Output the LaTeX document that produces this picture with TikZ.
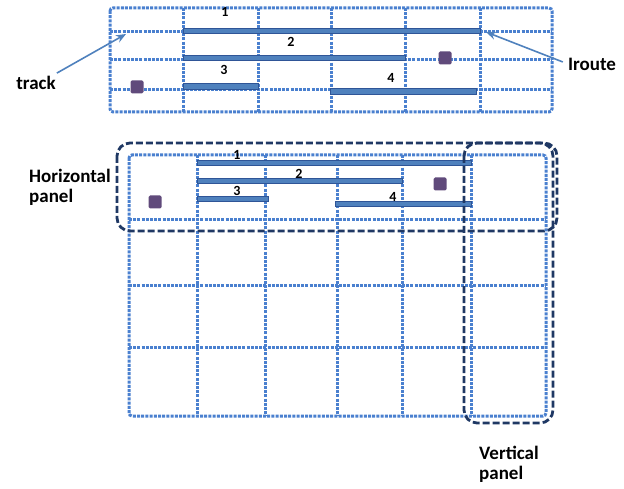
\documentclass[tikz,border=0pt]{standalone}
\usepackage{fontspec}
\setmainfont{Carlito}
\usetikzlibrary{arrows.meta}
\definecolor{gridblue}{HTML}{4A80CF}
\definecolor{barfill}{HTML}{4F81BD}
\definecolor{barline}{HTML}{2F5597}
\definecolor{navy}{HTML}{1F3864}
\definecolor{sqpurple}{HTML}{604A7B}
\begin{document}
\begin{tikzpicture}[x=1pt,y=-1pt,
  gridline/.style={draw=gridblue, line width=3pt, dash pattern=on 3pt off 1.2pt},
  gridframe/.style={gridline, rounded corners=3pt},
  barrect/.style={draw=barline, fill=barfill, line width=1pt},
  panelbox/.style={draw=navy, line width=2.8pt, dash pattern=on 7pt off 3pt, rounded corners=13pt},
  sq/.style={fill=sqpurple, minimum size=13pt, inner sep=0pt, rounded corners=1.5pt},
  num/.style={font=\bfseries\fontsize{14}{14}\selectfont, inner sep=0pt},
  lbl/.style={font=\bfseries\fontsize{19}{20}\selectfont, inner sep=0pt, align=left},
  callout/.style={draw=barfill, line width=1.6pt, -{Stealth[open, length=10pt, width=8pt]}}]
\useasboundingbox (0,0) rectangle (624,489);

% ---------- top grid ----------
\foreach \x in {183,258,331,405,480} \draw[gridline] (\x,8) -- (\x,112);
\foreach \y in {32,60,90} \draw[gridline] (110,\y) -- (552,\y);
\draw[gridframe] (110,8) rectangle (552,112);

\draw[barrect] (183,28.5) rectangle (480,34);
\draw[barrect] (183,55.5) rectangle (405,61);
\draw[barrect] (183,84) rectangle (258,89.5);
\draw[barrect] (330,89) rectangle (476,94.5);

\node[num] (t1) at (225,12) {1};
\node[num] (t2) at (291,42) {2};
\node[num] (t3) at (224,70) {3};
\node[num] (t4) at (391,78) {4};

\node[sq] (ts1) at (445,58) {};
\node[sq] (ts2) at (137,87) {};

\node[lbl] (track) at (36,83) {track};
\node[lbl] (iroute) at (592,64) {Iroute};
\coordinate (trackend) at (126,34);
\coordinate (irouteend) at (486,32);
\draw[callout] (track.north east) ++(1,-3) -- (trackend);
\draw[callout] (iroute.west) ++(-5,-2) -- (irouteend);

% ---------- bottom grid ----------
\foreach \x in {197,265,337,402,471} \draw[gridline] (\x,155) -- (\x,416);
\foreach \y in {220,285,347} \draw[gridline] (129,\y) -- (546,\y);
\draw[gridframe] (129,155) rectangle (546,416);

\draw[barrect] (197,161) rectangle (471,166);
\draw[barrect] (197,179) rectangle (402,184);
\draw[barrect] (197,197) rectangle (268,202);
\draw[barrect] (335,201.5) rectangle (471,206.5);

\node[num] (b1) at (237,155) {1};
\node[num] (b2) at (299,174) {2};
\node[num] (b3) at (237,191) {3};
\node[num] (b4) at (393,197) {4};

\node[sq] (bs1) at (155,202) {};
\node[sq] (bs2) at (440,184) {};

% panels
\draw[panelbox] (117,143) rectangle (557,231);
\draw[panelbox] (464,143) rectangle (553,423);

\node[lbl, anchor=west] (hpanel) at (29,187) {Horizontal\\panel};
\node[lbl, anchor=west] (vpanel) at (479,464) {Vertical\\panel};
\end{tikzpicture}
\end{document}
